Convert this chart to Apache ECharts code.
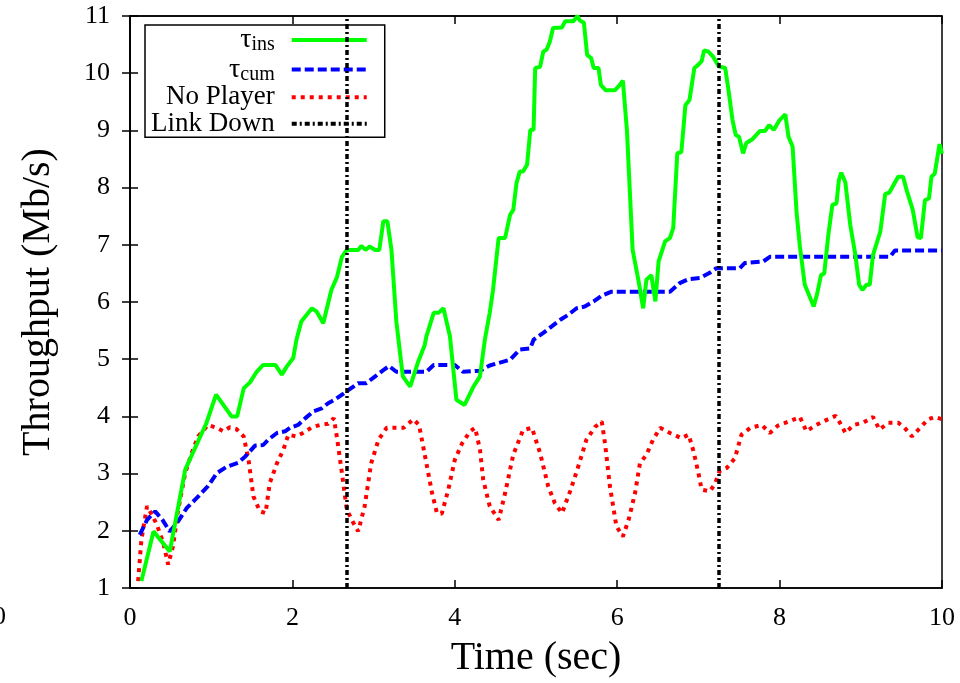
<!DOCTYPE html>
<html>
<head>
<meta charset="utf-8">
<script src="https://cdn.jsdelivr.net/npm/echarts@6/dist/echarts.min.js"></script>
<style>
  html, body { margin: 0; padding: 0; background: #fff; }
  #chart { width: 960px; height: 683px; }
</style>
</head>
<body>
<div id="chart"></div>
<script>
'use strict';
// tick labels
var timeTicks = [0, 2, 4, 6, 8, 10];
var rateTicks = [1, 2, 3, 4, 5, 6, 7, 8, 9, 10, 11];

// tau_ins, [sec, Mb/s]
var insData = [
  [0.14,1.12],[0.29,1.99],[0.49,1.64],[0.68,3.07],[0.94,3.88],[1.06,4.38],[1.25,4.0],[1.32,4.0],
  [1.40,4.49],[1.48,4.6],[1.56,4.78],[1.64,4.9],[1.79,4.9],[1.87,4.73],[1.93,4.87],[2.01,5.02],
  [2.05,5.34],[2.11,5.66],[2.24,5.89],[2.30,5.83],[2.38,5.63],[2.48,6.21],[2.55,6.44],[2.61,6.79],
  [2.67,6.91],[2.81,6.91],[2.85,6.98],[2.90,6.91],[2.95,6.97],[3.02,6.91],[3.07,6.91],[3.12,7.41],
  [3.17,7.41],[3.22,6.91],[3.28,5.66],[3.36,4.70],[3.45,4.52],[3.55,4.96],[3.63,5.25],[3.65,5.40],
  [3.74,5.81],[3.80,5.81],[3.86,5.89],[3.94,5.40],[4.02,4.29],[4.12,4.20],[4.23,4.52],[4.31,4.70],
  [4.37,5.34],[4.43,5.81],[4.47,6.2],[4.54,7.12],[4.62,7.12],[4.68,7.52],[4.72,7.61],[4.76,8.08],
  [4.80,8.28],[4.84,8.28],[4.89,8.40],[4.93,9.01],[4.97,9.01],[4.99,10.09],[5.05,10.11],[5.09,10.38],
  [5.13,10.41],[5.17,10.55],[5.21,10.79],[5.32,10.80],[5.36,10.91],[5.46,10.91],[5.51,11.0],[5.54,10.92],
  [5.59,10.88],[5.63,10.32],[5.68,10.26],[5.71,10.09],[5.77,10.09],[5.80,9.79],[5.86,9.70],[5.97,9.70],
  [6.03,9.79],[6.07,9.87],[6.12,9.0],[6.19,6.91],[6.26,6.39],[6.32,5.89],[6.36,6.39],[6.42,6.47],
  [6.47,6.01],[6.51,6.71],[6.59,7.06],[6.65,7.12],[6.69,7.29],[6.74,8.60],[6.79,8.62],[6.84,9.44],
  [6.89,9.53],[6.95,10.09],[7.00,10.15],[7.04,10.21],[7.07,10.40],[7.12,10.38],[7.18,10.29],[7.25,10.12],
  [7.33,10.09],[7.37,9.71],[7.42,9.18],[7.46,8.92],[7.50,8.89],[7.55,8.60],[7.59,8.78],[7.66,8.84],
  [7.70,8.90],[7.76,8.99],[7.82,8.99],[7.87,9.09],[7.93,9.01],[8.00,9.18],[8.07,9.28],[8.11,8.89],
  [8.16,8.72],[8.21,7.55],[8.25,6.97],[8.31,6.30],[8.42,5.92],[8.46,6.13],[8.51,6.47],[8.55,6.50],
  [8.60,7.17],[8.65,7.70],[8.70,7.72],[8.73,8.13],[8.76,8.26],[8.81,8.09],[8.87,7.35],[8.93,6.85],
  [8.98,6.30],[9.02,6.21],[9.07,6.30],[9.11,6.30],[9.15,6.82],[9.24,7.23],[9.30,7.89],[9.35,7.91],
  [9.46,8.19],[9.52,8.19],[9.57,7.93],[9.64,7.61],[9.70,7.13],[9.74,7.12],[9.79,7.78],[9.84,7.81],
  [9.87,8.19],[9.91,8.24],[9.97,8.76],[10.0,8.59]
];

// tau_cum
var cumData = [
  [0.12,1.93],[0.21,2.19],[0.31,2.34],[0.40,2.19],[0.49,1.99],[0.59,2.16],[0.70,2.40],[0.82,2.57],
  [0.96,2.78],[1.07,3.01],[1.19,3.12],[1.33,3.19],[1.42,3.30],[1.54,3.49],[1.64,3.50],[1.70,3.59],
  [1.81,3.71],[1.91,3.74],[1.97,3.80],[2.07,3.85],[2.16,3.97],[2.26,4.09],[2.36,4.14],[2.44,4.23],
  [2.52,4.29],[2.67,4.44],[2.81,4.58],[2.91,4.58],[3.02,4.70],[3.12,4.81],[3.19,4.88],[3.28,4.78],
  [3.65,4.78],[3.74,4.90],[4.00,4.90],[4.10,4.78],[4.31,4.80],[4.43,4.89],[4.68,4.99],[4.80,5.17],
  [4.93,5.19],[4.97,5.34],[5.09,5.46],[5.19,5.57],[5.30,5.69],[5.40,5.78],[5.50,5.89],[5.60,5.92],
  [5.71,6.01],[5.81,6.11],[5.93,6.18],[6.65,6.18],[6.77,6.33],[6.88,6.40],[7.02,6.42],[7.14,6.51],
  [7.22,6.59],[7.51,6.59],[7.57,6.68],[7.80,6.71],[7.88,6.79],[9.36,6.79],[9.42,6.90],[10.0,6.90]
];

// No Player
var noPlayerData = [
  [0.10,1.12],[0.14,1.84],[0.21,2.43],[0.27,2.28],[0.33,2.11],[0.41,1.79],[0.47,1.41],[0.53,1.73],
  [0.59,2.34],[0.68,3.01],[0.76,3.36],[0.84,3.65],[0.96,3.85],[1.07,3.80],[1.15,3.74],[1.23,3.81],
  [1.31,3.78],[1.40,3.65],[1.46,3.24],[1.52,2.60],[1.60,2.34],[1.67,2.31],[1.72,2.83],[1.81,3.18],
  [1.89,3.42],[1.95,3.68],[2.05,3.65],[2.13,3.71],[2.24,3.81],[2.34,3.85],[2.44,3.87],[2.51,3.97],
  [2.55,3.62],[2.61,3.01],[2.67,2.37],[2.75,2.14],[2.81,1.99],[2.89,2.43],[2.97,3.18],[3.06,3.59],
  [3.16,3.80],[3.37,3.80],[3.49,3.95],[3.56,3.85],[3.63,3.33],[3.72,2.66],[3.78,2.31],[3.84,2.30],
  [3.92,2.72],[4.00,3.24],[4.09,3.53],[4.19,3.74],[4.25,3.80],[4.31,3.42],[4.35,2.89],[4.43,2.43],
  [4.54,2.19],[4.62,2.66],[4.72,3.33],[4.84,3.76],[4.95,3.80],[5.05,3.36],[5.15,2.78],[5.23,2.49],
  [5.32,2.31],[5.42,2.69],[5.52,3.12],[5.62,3.59],[5.73,3.82],[5.81,3.91],[5.85,3.53],[5.91,2.78],
  [5.99,2.08],[6.07,1.90],[6.14,2.19],[6.22,2.66],[6.28,3.18],[6.36,3.33],[6.44,3.59],[6.53,3.80],
  [6.65,3.71],[6.79,3.62],[6.88,3.68],[6.94,3.39],[7.00,3.01],[7.04,2.72],[7.14,2.69],[7.20,2.81],
  [7.26,3.04],[7.35,3.10],[7.45,3.27],[7.53,3.68],[7.64,3.80],[7.78,3.85],[7.88,3.71],[7.98,3.84],
  [8.11,3.91],[8.25,3.99],[8.33,3.74],[8.45,3.85],[8.58,3.94],[8.69,4.01],[8.76,3.85],[8.81,3.71],
  [8.91,3.85],[9.03,3.89],[9.15,3.99],[9.23,3.77],[9.34,3.89],[9.46,3.89],[9.54,3.80],[9.63,3.65],
  [9.73,3.80],[9.83,3.95],[9.91,3.99],[10.0,3.95]
];

// times when the link went down
var linkDownAt = [2.67, 7.25];

var FONT = 'Liberation Serif';
var myChart = echarts.init(document.getElementById('chart'), null, { renderer: 'canvas' });

// legend labels, subscripts via rich text
var legendText = {
  'τins': '{g|τ}{s|ins}',
  'τcum': '{g|τ}{s|cum}',
  'No Player': '{n|No Player}',
  'Link Down': '{n|Link Down}'
};

var option = {
  backgroundColor: '#fff',
  animation: false,
  grid: {
    left: 130, right: 18, top: 16, bottom: 95,
    outerBoundsMode: 'none',
    containLabel: false,
    show: true, borderColor: '#000', borderWidth: 1.5
  },
  legend: {
    orient: 'vertical',
    left: 145, top: 25,
    align: 'right',
    padding: [0, 16, 0, 6],
    itemGap: -0.6,
    itemWidth: 75,
    itemHeight: 14,
    borderColor: '#000',
    borderWidth: 1.5,
    backgroundColor: '#fff',
    itemStyle: { opacity: 0 },
    lineStyle: { width: 4 },
    data: ['τins', 'τcum', 'No Player', 'Link Down'],
    formatter: function(name) {
      return legendText[name];
    },
    textStyle: {
      width: 142,
      align: 'right',
      padding: [0, 12, 0, 0],
      color: '#000',
      fontFamily: FONT,
      rich: {
        g: { fontFamily: FONT, fontSize: 28, color: '#000', lineHeight: 24, align: 'right' },
        s: { fontFamily: FONT, fontSize: 20, color: '#000', lineHeight: 14, padding: [10, 0, 0, 0], align: 'right' },
        n: { fontFamily: FONT, fontSize: 27, color: '#000', lineHeight: 24, align: 'right' }
      }
    }
  },
  xAxis: [{
    type: 'value',
    min: 0, max: 10, interval: 2,
    name: 'Time (sec)',
    nameLocation: 'middle',
    nameGap: 50,
    nameTextStyle: { fontFamily: FONT, fontSize: 40, color: '#000' },
    axisLine: { show: true, onZero: false, lineStyle: { color: '#000', width: 1.5 } },
    axisTick: { show: true, inside: true, length: 8, lineStyle: { color: '#000', width: 1.5 } },
    axisLabel: { fontFamily: FONT, fontSize: 26, color: '#000', margin: 17 },
    splitLine: { show: false }
  }, {
    type: 'value',
    position: 'top',
    min: 0, max: 10, interval: 2,
    axisLine: { show: true, lineStyle: { color: '#000', width: 1.5 } },
    axisTick: { show: true, inside: true, length: 8, lineStyle: { color: '#000', width: 1.5 } },
    axisLabel: { show: false },
    splitLine: { show: false }
  }],
  yAxis: [{
    type: 'value',
    min: 1, max: 11, interval: 1,
    name: 'Throughput (Mb/s)',
    nameLocation: 'middle',
    nameGap: 72,
    nameTextStyle: { fontFamily: FONT, fontSize: 40, color: '#000' },
    axisLine: { show: true, onZero: false, lineStyle: { color: '#000', width: 1.5 } },
    axisTick: { show: true, inside: true, length: 8, lineStyle: { color: '#000', width: 1.5 } },
    axisLabel: { fontFamily: FONT, fontSize: 26, color: '#000', margin: 20 },
    splitLine: { show: false }
  }, {
    type: 'value',
    position: 'right',
    min: 1, max: 11, interval: 1,
    axisLine: { show: true, lineStyle: { color: '#000', width: 1.5 } },
    axisTick: { show: true, inside: true, length: 8, lineStyle: { color: '#000', width: 1.5 } },
    axisLabel: { show: false },
    splitLine: { show: false }
  }],
  graphic: [{
    // clipped label left over from the neighbouring panel
    type: 'text', left: -7, top: 604,
    style: { text: '0', fontFamily: FONT, fontSize: 26, fill: '#000' }
  }],
  series: [{
    name: 'τins',
    type: 'line',
    data: insData,
    showSymbol: false, symbol: 'none',
    lineStyle: { color: '#00ff00', width: 4 },
    itemStyle: { color: '#00ff00' },
    z: 4
  }, {
    name: 'τcum',
    type: 'line',
    data: cumData,
    showSymbol: false, symbol: 'none',
    lineStyle: { color: '#0000ff', width: 4, type: [9, 4] },
    itemStyle: { color: '#0000ff' },
    z: 3
  }, {
    name: 'No Player',
    type: 'line',
    data: noPlayerData,
    showSymbol: false, symbol: 'none',
    lineStyle: { color: '#ff0000', width: 4, type: [4, 5] },
    itemStyle: { color: '#ff0000' },
    z: 2
  }, {
    name: 'Link Down',
    type: 'line',
    data: [],
    showSymbol: false, symbol: 'none',
    lineStyle: { color: '#000', width: 3.5, type: [5, 3, 2, 3] },
    itemStyle: { color: '#000' },
    markLine: {
      silent: true,
      symbol: 'none',
      label: { show: false },
      lineStyle: { color: '#000', width: 3.5, type: [5, 3, 2, 3] },
      data: linkDownAt.map(function(t) { return { xAxis: t }; })
    },
    z: 5
  }]
};
myChart.setOption(option);
</script>
</body>
</html>
